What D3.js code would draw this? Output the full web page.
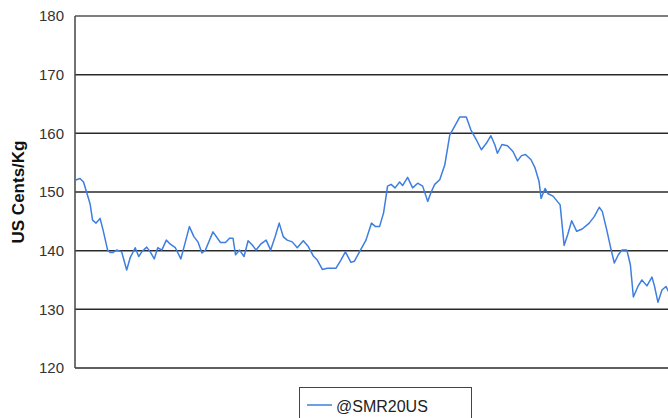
<!DOCTYPE html>
<html>
<head>
<meta charset="utf-8">
<script src="https://cdn.jsdelivr.net/npm/d3@7"></script>
<style>
  body { margin: 0; background: #fff; }
  svg { display: block; font-family: "Liberation Sans", Arial, sans-serif; }
  .grid line { stroke: #2b2b2b; stroke-width: 1.5; }
  .tick-label { font-size: 15px; fill: #333; }
  .y-title { font-size: 17px; font-weight: bold; fill: #111; }
  .series { fill: none; stroke: #3d7ee0; stroke-width: 1.5; stroke-linejoin: round; }
</style>
</head>
<body>
<div id="chart"></div>
<script>
// SMR20 price, US cents/kg, sampled by day offset
var seriesName = "@SMR20US";
var days = [0, 10, 17, 23, 30, 35, 42, 50, 56, 65, 70, 76, 83, 93, 103, 110, 120, 127, 133, 143,
    150, 158, 165, 173, 182, 190, 200, 211, 220, 228, 237, 245, 253, 260, 275, 290, 300, 308, 315, 320,
    328, 337, 345, 353, 361, 370, 381, 390, 399, 407, 415, 423, 433, 443, 455, 465, 475, 483, 493, 503,
    520, 530, 539, 550, 557, 567, 580, 591, 599, 607, 615, 620, 623, 630, 638, 647, 653, 663, 673, 683,
    693, 703, 710, 717, 727, 737, 747, 758, 767, 780, 789, 800, 810, 820, 829, 837, 842, 851, 862, 873,
    882, 890, 898, 909, 917, 925, 929, 937, 943, 953, 967, 975, 982, 990, 1000, 1011, 1025, 1035, 1045, 1051,
    1060, 1068, 1075, 1083, 1090, 1100, 1107, 1113, 1122, 1130, 1140, 1150, 1155, 1162, 1170, 1178, 1186];
var prices = [152.0, 152.3, 151.7, 150.0, 148.0, 145.2, 144.7, 145.5, 143.5, 140.1, 139.7, 139.7, 140.1, 139.8, 136.7, 138.8, 140.5, 139.0, 139.8, 140.6,
    139.8, 138.6, 140.5, 140.1, 141.8, 141.1, 140.5, 138.6, 141.5, 144.1, 142.4, 141.5, 139.6, 140.1, 143.2, 141.4, 141.4, 142.1, 142.1, 139.3,
    140.1, 139.0, 141.7, 141.0, 140.1, 141.1, 141.8, 140.1, 142.4, 144.7, 142.4, 141.8, 141.5, 140.5, 141.7, 140.7, 139.1, 138.4, 136.8, 137.0,
    137.0, 138.4, 139.8, 138.0, 138.2, 139.8, 141.8, 144.7, 144.1, 144.1, 146.4, 149.2, 151.0, 151.3, 150.7, 151.7, 151.1, 152.5, 150.7, 151.5,
    151.0, 148.4, 150.0, 151.3, 152.1, 154.6, 159.7, 161.4, 162.8, 162.8, 160.6, 158.9, 157.2, 158.3, 159.6, 158.0, 156.6, 158.1, 157.9, 156.9,
    155.3, 156.2, 156.4, 155.5, 154.1, 151.8, 148.9, 150.6, 149.7, 149.3, 147.8, 140.9, 142.7, 145.1, 143.3, 143.7, 144.7, 145.8, 147.4, 146.7,
    143.5, 140.4, 137.9, 139.3, 140.1, 140.1, 137.6, 132.1, 133.9, 135.0, 134.0, 135.5, 134.0, 131.2, 133.3, 133.9, 132.5];
var yTicks = [120, 130, 140, 150, 160, 170, 180];

var width = 668, height = 418;
var margin = {top: 16, right: -2, bottom: 50, left: 75};

var svg = d3.select("#chart").append("svg")
    .attr("width", width)
    .attr("height", height);

var x = d3.scaleLinear()
    .domain([0, d3.max(days)])
    .range([margin.left, width - margin.right]);
var y = d3.scaleLinear()
    .domain([120, 180])
    .range([height - margin.bottom, margin.top]);

// horizontal grid lines (the 120 one doubles as the x axis)
svg.append("g").attr("class", "grid")
    .selectAll("line").data(yTicks).enter().append("line")
    .attr("x1", margin.left).attr("x2", width)
    .attr("y1", function (d) { return y(d); })
    .attr("y2", function (d) { return y(d); })
    .style("stroke", function (d) { return d == 180 ? "#555" : null; });

// left axis line
svg.append("line")
    .attr("x1", margin.left).attr("x2", margin.left)
    .attr("y1", y(180)).attr("y2", y(120))
    .style("stroke", "#444").style("stroke-width", 1.5);

svg.selectAll(".tick-label").data(yTicks).enter().append("text")
    .attr("class", "tick-label")
    .attr("x", 64)
    .attr("y", function (d) { return y(d); })
    .attr("dy", "0.35em")
    .attr("text-anchor", "end")
    .text(function (d) { return d; });

svg.append("text")
    .attr("class", "y-title")
    .attr("transform", "translate(24," + y(150) + ") rotate(-90)")
    .attr("text-anchor", "middle")
    .text("US Cents/Kg");

var line = d3.line()
    .x(function (d, i) { return x(days[i]); })
    .y(function (d) { return y(d); });

svg.append("path")
    .datum(prices)
    .attr("class", "series")
    .attr("d", line);

// legend, centred under the (cropped) plot area
var legend = svg.append("g").attr("transform", "translate(299,387)");
legend.append("rect")
    .attr("x", 0.5).attr("y", 0.5)
    .attr("width", 172).attr("height", 40)
    .style("fill", "#fff").style("stroke", "#444").style("stroke-width", 1);
legend.append("line")
    .attr("x1", 8).attr("x2", 33).attr("y1", 18).attr("y2", 18)
    .style("stroke", "#3d7ee0").style("stroke-width", 1.5);
legend.append("text")
    .attr("x", 37).attr("y", 19).attr("dy", "0.35em")
    .style("font-size", "16px").style("fill", "#222")
    .text(seriesName);
</script>
</body>
</html>
